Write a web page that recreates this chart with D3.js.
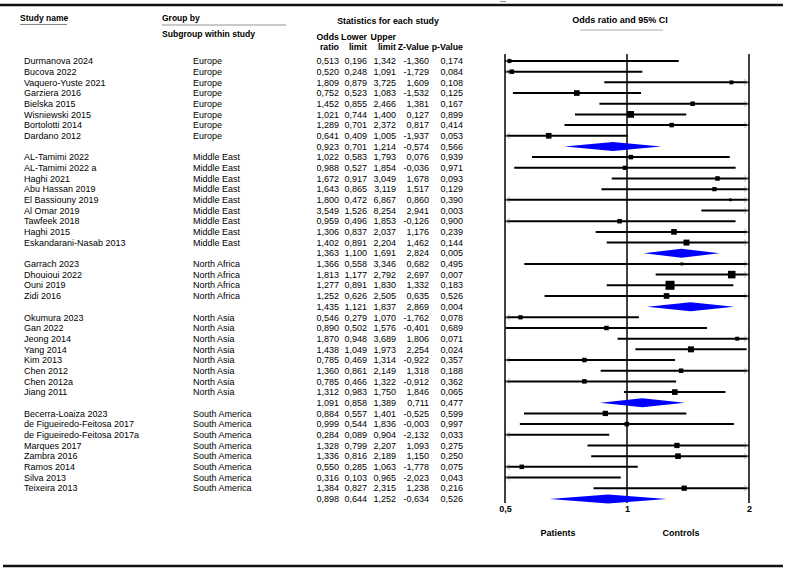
<!DOCTYPE html>
<html><head><meta charset="utf-8">
<script src="https://cdn.jsdelivr.net/npm/d3@7"></script>
<style>body{margin:0;background:#fff} svg{display:block} text{font-family:"Liberation Sans",Arial,sans-serif;fill:#000}</style>
</head><body><svg id="c" width="789" height="571"></svg>
<script>
// ---------- DATA ----------
const groups = ["Europe","Middle East","North Africa","North Asia","South America"];

const studyNames = [
 "Durmanova 2024","Bucova  2022","Vaquero-Yuste 2021","Garziera 2016","Bielska 2015","Wisniewski 2015","Bortolotti 2014","Dardano 2012",
 "AL-Tamimi 2022","AL-Tamimi 2022 a","Haghi 2021","Abu Hassan 2019","El Bassiouny 2019","Al Omar 2019","Tawfeek 2018","Haghi 2015","Eskandarani-Nasab 2013",
 "Garrach 2023","Dhouioui 2022","Ouni 2019","Zidi 2016",
 "Okumura 2023","Gan 2022","Jeong 2014","Yang 2014","Kim 2013","Chen 2012","Chen 2012a","Jiang 2011",
 "Becerra-Loaiza 2023","de Figueiredo-Feitosa 2017","de Figueiredo-Feitosa 2017a","Marques 2017","Zambra 2016","Ramos 2014","Silva 2013","Teixeira 2013"
];
const studyGroup = [
 "Europe","Europe","Europe","Europe","Europe","Europe","Europe","Europe",
 "Middle East","Middle East","Middle East","Middle East","Middle East","Middle East","Middle East","Middle East","Middle East",
 "North Africa","North Africa","North Africa","North Africa",
 "North Asia","North Asia","North Asia","North Asia","North Asia","North Asia","North Asia","North Asia",
 "South America","South America","South America","South America","South America","South America","South America","South America"
];
const oddsRatio = [0.513,0.520,1.809,0.752,1.452,1.021,1.289,0.641,
 1.022,0.988,1.672,1.643,1.800,3.549,0.959,1.306,1.402,
 1.366,1.813,1.277,1.252,
 0.546,0.890,1.870,1.438,0.785,1.360,0.785,1.312,
 0.884,0.999,0.284,1.328,1.336,0.550,0.316,1.384];
const lowerLimit = [0.196,0.248,0.879,0.523,0.855,0.744,0.701,0.409,
 0.583,0.527,0.917,0.865,0.472,1.526,0.496,0.837,0.891,
 0.558,1.177,0.891,0.626,
 0.279,0.502,0.948,1.049,0.469,0.861,0.466,0.983,
 0.557,0.544,0.089,0.799,0.816,0.285,0.103,0.827];
const upperLimit = [1.342,1.091,3.725,1.083,2.466,1.400,2.372,1.005,
 1.793,1.854,3.049,3.119,6.867,8.254,1.853,2.037,2.204,
 3.346,2.792,1.830,2.505,
 1.070,1.576,3.689,1.973,1.314,2.149,1.322,1.750,
 1.401,1.836,0.904,2.207,2.189,1.063,0.965,2.315];
const zValue = [-1.360,-1.729,1.609,-1.532,1.381,0.127,0.817,-1.937,
 0.076,-0.036,1.678,1.517,0.860,2.941,-0.126,1.176,1.462,
 0.682,2.697,1.332,0.635,
 -1.762,-0.401,1.806,2.254,-0.922,1.318,-0.912,1.846,
 -0.525,-0.003,-2.132,1.093,1.150,-1.778,-2.023,1.238];
const pValue = [0.174,0.084,0.108,0.125,0.167,0.899,0.414,0.053,
 0.939,0.971,0.093,0.129,0.390,0.003,0.900,0.239,0.144,
 0.495,0.007,0.183,0.526,
 0.078,0.689,0.071,0.024,0.357,0.188,0.362,0.065,
 0.599,0.997,0.033,0.275,0.250,0.075,0.043,0.216];
// relative weights
const relativeWeight = [12,16,12,25,16,36,16,25,
 16,14,16,14,6,10,16,25,28,
 7,45,64,25,
 14,16,12,28,16,16,16,25,
 22,16,8,22,25,16,6,22];

const summaryOR    = [0.923,1.363,1.435,1.091,0.898];
const summaryLower = [0.701,1.100,1.121,0.858,0.644];
const summaryUpper = [1.214,1.691,1.837,1.389,1.252];
const summaryZ     = [-0.574,2.824,2.869,0.711,-0.634];
const summaryP     = [0.566,0.005,0.004,0.477,0.526];

const axisTicks = [0.5, 1, 2];
const axisTickLabels = ["0,5","1","2"];

// ---------- BUILD ROWS ----------
const rows = [];
groups.forEach((g, gi) => {
  studyNames.forEach((n, i) => {
    if (studyGroup[i] === g) rows.push({type:"study", name:n, group:g, or:oddsRatio[i], lo:lowerLimit[i], hi:upperLimit[i], z:zValue[i], p:pValue[i], w:relativeWeight[i]});
  });
  rows.push({type:"summary", name:"", group:"", or:summaryOR[gi], lo:summaryLower[gi], hi:summaryUpper[gi], z:summaryZ[gi], p:summaryP[gi]});
});

const svg = d3.select("#c");
const loc = d3.formatLocale({decimal:",", thousands:".", grouping:[3], currency:["",""], minus:"-"});
const f3 = loc.format(".3f");

const x = d3.scaleLog().domain([0.5, 2]).range([505, 749]);
const y = d3.scaleLinear().domain([0, rows.length - 1]).range([61, 61 + (rows.length - 1) * 10.68]);
const sq = d3.scaleSqrt().domain([0, 64]).range([0, 9]);

// frame lines
svg.append("line").attr("x1",0).attr("x2",783).attr("y1",5).attr("y2",5).attr("stroke","#111").attr("stroke-width",2.5);
svg.append("line").attr("x1",3).attr("x2",783).attr("y1",566).attr("y2",566).attr("stroke","#111").attr("stroke-width",2.5);
svg.append("line").attr("x1",500).attr("x2",506).attr("y1",1.5).attr("y2",1.5).attr("stroke","#888").attr("stroke-width",1);

// headers
const hdr = (t, xx, yy, anchor, fs) => svg.append("text").text(t).attr("x",xx).attr("y",yy).attr("text-anchor",anchor||"start").attr("font-weight","bold").style("font-size",(fs||8.6)+"px");
hdr("Study name", 20, 21, "start", 8.5);
svg.append("line").attr("x1",20).attr("x2",67).attr("y1",24.5).attr("y2",24.5).attr("stroke","#666").attr("stroke-width",0.8);
hdr("Group by", 162, 21, "start", 8.5);
svg.append("line").attr("x1",162).attr("x2",286).attr("y1",25).attr("y2",25).attr("stroke","#777").attr("stroke-width",0.8);
hdr("Subgroup within study", 162, 37);
hdr("Statistics for each study", 388, 24, "middle", 8.8);
const colRight = [339, 367, 396, 429, 463];
const hf = 8.8;
hdr("Odds", colRight[0], 40, "end", hf); hdr("ratio", colRight[0], 49.5, "end", hf);
hdr("Lower", colRight[1], 40, "end", hf); hdr("limit", colRight[1], 49.5, "end", hf);
hdr("Upper", colRight[2], 40, "end", hf); hdr("limit", colRight[2], 49.5, "end", hf);
hdr("Z-Value", colRight[3], 49.5, "end", hf);
hdr("p-Value", colRight[4], 49.5, "end", hf);
hdr("Odds ratio and 95% CI", 620, 23, "middle", 9);
svg.append("line").attr("x1",580).attr("x2",663).attr("y1",30).attr("y2",30).attr("stroke","#999").attr("stroke-width",0.8);

// table text
const rowG = svg.append("g").selectAll("g").data(rows).join("g").attr("transform",(d,i)=>`translate(0,${y(i)+3.2})`);
rowG.append("text").attr("x",24).style("font-size","9px").text(d=>d.name);
rowG.append("text").attr("x",193).style("font-size","9px").text(d=>d.group);
const cols = [d=>d.or, d=>d.lo, d=>d.hi, d=>d.z, d=>d.p];
cols.forEach((acc, ci) => {
  rowG.append("text").attr("x",colRight[ci]).attr("text-anchor","end").style("font-size","9px").text(d=>f3(acc(d)));
});

// axis vertical lines
const plot = svg.append("g");
axisTicks.forEach(t => {
  plot.append("line").attr("x1",x(t)).attr("x2",x(t)).attr("y1",54).attr("y2",503).attr("stroke","#000").attr("stroke-width",1.5);
});
const ax = d3.axisBottom(x).tickValues(axisTicks).tickFormat((d,i)=>axisTickLabels[i]).tickSize(0).tickPadding(3);
const axG = plot.append("g").attr("transform","translate(0,503)").call(ax);
axG.select(".domain").remove();
axG.selectAll("text").attr("font-weight","bold").style("font-size","9px").style("font-family","Liberation Sans, Arial, sans-serif").attr("fill","#000");

// CI lines and squares
const [dMin, dMax] = x.domain();
rows.forEach((d, i) => {
  const yy = y(i);
  if (d.type === "study") {
    const lo = Math.max(d.lo, dMin), hi = Math.min(d.hi, dMax);
    if (hi > lo) plot.append("line").attr("x1",x(lo)).attr("x2",x(hi)).attr("y1",yy).attr("y2",yy).attr("stroke","#000").attr("stroke-width",2);
    if (d.lo < dMin) plot.append("path").attr("d",`M${x(dMin)+5},${yy-3}L${x(dMin)+1},${yy}L${x(dMin)+5},${yy+3}`).attr("fill","none").attr("stroke","#aaa").attr("stroke-width",0.8);
    if (d.hi > dMax) plot.append("path").attr("d",`M${x(dMax)-5},${yy-3}L${x(dMax)-1},${yy}L${x(dMax)-5},${yy+3}`).attr("fill","none").attr("stroke","#aaa").attr("stroke-width",0.8);
    if (d.or >= dMin && d.or <= dMax) {
      const s = sq(d.w);
      plot.append("rect").attr("x",x(d.or)-s/2).attr("y",yy-s/2).attr("width",s).attr("height",s).attr("fill","#000");
    }
  } else {
    plot.append("path").attr("d",`M${x(d.lo)},${yy}L${x(d.or)},${yy-4.5}L${x(d.hi)},${yy}L${x(d.or)},${yy+4.5}Z`).attr("fill","#0000ff");
  }
});

// favours labels
hdr("Patients", 558, 536, "middle", 9);
hdr("Controls", 681, 536, "middle", 9);
</script></body></html>
